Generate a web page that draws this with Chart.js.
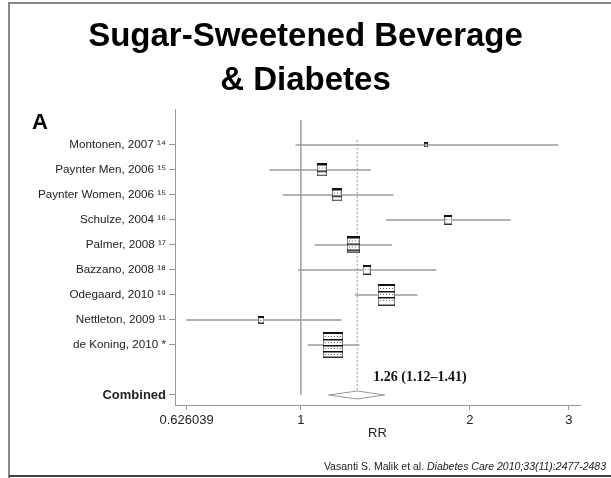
<!DOCTYPE html>
<html>
<head>
<meta charset="utf-8">
<script src="https://cdn.jsdelivr.net/npm/chart.js@4/dist/chart.umd.min.js"></script>
<style>
  html, body { margin: 0; padding: 0; background: #fff; }
  canvas { display: block; }
</style>
</head>
<body>
<canvas id="forest" width="611" height="478"></canvas>
<script>
// Study-level relative risks (RR) with 95% confidence intervals
const studies = [
  'Montonen, 2007 \u00B9\u2074',
  'Paynter Men, 2006 \u00B9\u2075',
  'Paynter Women, 2006 \u00B9\u2075',
  'Schulze, 2004 \u00B9\u2076',
  'Palmer, 2008 \u00B9\u2077',
  'Bazzano, 2008 \u00B9\u2078',
  'Odegaard, 2010 \u00B9\u2079',
  'Nettleton, 2009 \u00B9\u00B9',
  'de Koning, 2010 *'
];
const rr      = [1.67, 1.09, 1.16, 1.83, 1.24, 1.31, 1.42, 0.85, 1.14];
const ciLow   = [0.98, 0.88, 0.93, 1.42, 1.06, 0.99, 1.25, 0.626, 1.03];
const ciHigh  = [2.87, 1.33, 1.46, 2.36, 1.45, 1.74, 1.61, 1.18, 1.27];
const weights = [1.0, 8.7, 7.9, 5.3, 13.9, 4.9, 23.4, 3.3, 31.6];   // % weight

// Pooled estimate: RR, lower, upper
const pooled = [1.26, 1.12, 1.41];
const pooledLabel = 'Combined';

const xTicks = [0.626039, 1, 2, 3];
const nullRR = 1;

// Row layout: one row per study, a blank row, then the pooled row
const studyRows = studies.map((_, i) => i + 1);
const pooledRow = studies.length + 2;
const diamondHalf = 0.16;

Chart.defaults.font.family = '"Liberation Sans", Arial, Helvetica, sans-serif';
Chart.defaults.color = '#222';

// Weighted study box, drawn as a small hollow rectangle with hatch rows
function makeBox(weight) {
  const area = weight * 16;
  const w = Math.max(3, Math.round(Math.sqrt(area / 1.3)));
  const h = Math.max(4, Math.round(w * 1.3));
  const c = document.createElement('canvas');
  c.width = w; c.height = h;
  const g = c.getContext('2d');
  g.fillStyle = '#fff';
  g.fillRect(0, 0, w, h);
  g.strokeStyle = '#777';
  g.lineWidth = 1;
  g.strokeRect(0.5, 0.5, w - 1, h - 1);
  g.fillStyle = '#111';
  g.fillRect(0, 0, w, Math.min(2, h / 3));
  let row = 0;
  for (let y = 4; y < h - 3; y += 3) {
    if (row % 2 === 1) {
      g.fillStyle = '#111';
      g.fillRect(0, y, w, 1.5);
    } else {
      g.fillStyle = '#666';
      for (let x = 2; x < w - 1; x += 3) g.fillRect(x, y, 1, 1);
    }
    row++;
  }
  g.fillStyle = '#333';
  g.fillRect(0, h - 1.5, w, 1.5);
  return c;
}
const boxImages = weights.map(makeBox);

// Text drawn outside the axes: panel letter, pooled estimate, citation, frame
const extras = {
  id: 'extras',
  afterDraw(chart) {
    const ctx = chart.ctx;
    const xs = chart.scales.x, ys = chart.scales.y;
    ctx.save();

    ctx.strokeStyle = '#888';
    ctx.lineWidth = 2;
    ctx.beginPath();
    ctx.moveTo(9, 478); ctx.lineTo(9, 3); ctx.lineTo(611, 3);
    ctx.stroke();
    ctx.strokeStyle = '#444';
    ctx.beginPath();
    ctx.moveTo(9, 476); ctx.lineTo(611, 476);
    ctx.stroke();

    ctx.fillStyle = '#000';
    ctx.font = 'bold 22px "Liberation Sans", Arial, sans-serif';
    ctx.textBaseline = 'alphabetic';
    ctx.textAlign = 'left';
    ctx.fillText('A', 32, 129);

    const txt = pooled[0].toFixed(2) + ' (' + pooled[1].toFixed(2) + '\u2013' + pooled[2].toFixed(2) + ')';
    ctx.font = 'bold 14px "Liberation Serif", "Times New Roman", serif';
    ctx.fillStyle = '#111';
    ctx.textBaseline = 'middle';
    ctx.fillText(txt, xs.getPixelForValue(pooled[0]) + 16, ys.getPixelForValue(pooledRow - 0.7));

    const plain = 'Vasanti S. Malik et al. ';
    const ital = 'Diabetes Care 2010;33(11):2477-2483';
    ctx.textBaseline = 'alphabetic';
    ctx.fillStyle = '#222';
    ctx.font = 'italic 10.5px "Liberation Sans", Arial, sans-serif';
    const wi = ctx.measureText(ital).width;
    ctx.font = '10.5px "Liberation Sans", Arial, sans-serif';
    const wp = ctx.measureText(plain).width;
    const right = 606;
    ctx.fillText(plain, right - wi - wp, 470);
    ctx.font = 'italic 10.5px "Liberation Sans", Arial, sans-serif';
    ctx.fillText(ital, right - wi, 470);
    ctx.restore();
  }
};

new Chart(document.getElementById('forest'), {
  type: 'scatter',
  data: {
    datasets: [
      {
        // confidence intervals
        type: 'bar',
        indexAxis: 'y',
        data: studyRows.map((r, i) => ({ x: [ciLow[i], ciHigh[i]], y: r })),
        backgroundColor: '#9a9a9a',
        barThickness: 1,
        borderWidth: 0,
        order: 3
      },
      {
        // line of no effect
        type: 'line',
        data: [{ x: nullRR, y: 0 }, { x: nullRR, y: pooledRow }],
        borderColor: '#a8a8a8',
        borderWidth: 1,
        pointRadius: 0,
        order: 4
      },
      {
        // pooled estimate reference line
        type: 'line',
        data: [{ x: pooled[0], y: 0.8 }, { x: pooled[0], y: pooledRow - diamondHalf }],
        borderColor: '#9a9a9a',
        borderWidth: 1,
        borderDash: [2, 2],
        pointRadius: 0,
        order: 4
      },
      {
        // study point estimates, box size by weight
        data: studyRows.map((r, i) => ({ x: rr[i], y: r })),
        pointStyle: boxImages,
        pointRadius: 3,
        order: 1
      },
      {
        // pooled diamond
        type: 'line',
        data: [
          { x: pooled[1], y: pooledRow },
          { x: pooled[0], y: pooledRow - diamondHalf },
          { x: pooled[2], y: pooledRow },
          { x: pooled[0], y: pooledRow + diamondHalf },
          { x: pooled[1], y: pooledRow }
        ],
        borderColor: '#999',
        backgroundColor: '#fff',
        borderWidth: 1,
        fill: true,
        tension: 0,
        pointRadius: 0,
        order: 0
      }
    ]
  },
  options: {
    responsive: false,
    animation: false,
    devicePixelRatio: 1,
    layout: { padding: { left: 0, right: 0, top: 0, bottom: 37 } },
    plugins: {
      legend: { display: false },
      tooltip: { enabled: false },
      title: {
        display: true,
        text: ['Sugar-Sweetened Beverage', '& Diabetes'],
        color: '#000',
        font: { size: 33, weight: 'bold', lineHeight: 1.36 },
        padding: { top: 14, bottom: 6.2 }
      }
    },
    scales: {
      x: {
        type: 'logarithmic',
        min: 0.597,
        max: 3.14,
        afterBuildTicks: s => { s.ticks = xTicks.map(v => ({ value: v })); },
        afterFit: s => { s.height = 36; },
        ticks: {
          autoSkip: false,
          maxRotation: 0,
          padding: 3,
          color: '#222',
          font: { size: 13 },
          callback: v => String(v)
        },
        grid: { display: true, drawOnChartArea: false, drawTicks: true, tickLength: 5, color: '#999' },
        border: { display: true, color: '#999' },
        title: { display: true, text: 'RR', color: '#222', font: { size: 13 }, padding: { top: 1, bottom: 0 } }
      },
      y: {
        type: 'linear',
        reverse: true,
        offset: false,
        min: -0.4,
        max: pooledRow + 0.4,
        afterBuildTicks: s => { s.ticks = studyRows.concat([pooledRow]).map(v => ({ value: v })); },
        afterFit: s => { s.width = 175; },
        ticks: {
          autoSkip: false,
          padding: 3,
          color: '#222',
          font: ctx => (ctx.tick && ctx.tick.value === pooledRow)
            ? { size: 13, weight: 'bold' }
            : { size: 11.7 },
          callback: v => (v === pooledRow ? pooledLabel : (studies[v - 1] || ''))
        },
        grid: { display: true, offset: false, drawOnChartArea: false, drawTicks: true, tickLength: 6, color: '#999' },
        border: { display: true, color: '#999' }
      },
      // empty right margin so the title centres on the page
      pad: {
        type: 'linear',
        position: 'right',
        display: true,
        ticks: { display: false },
        grid: { display: false },
        border: { display: false },
        afterFit: s => { s.width = 31; }
      }
    }
  },
  plugins: [extras]
});
</script>
</body>
</html>
